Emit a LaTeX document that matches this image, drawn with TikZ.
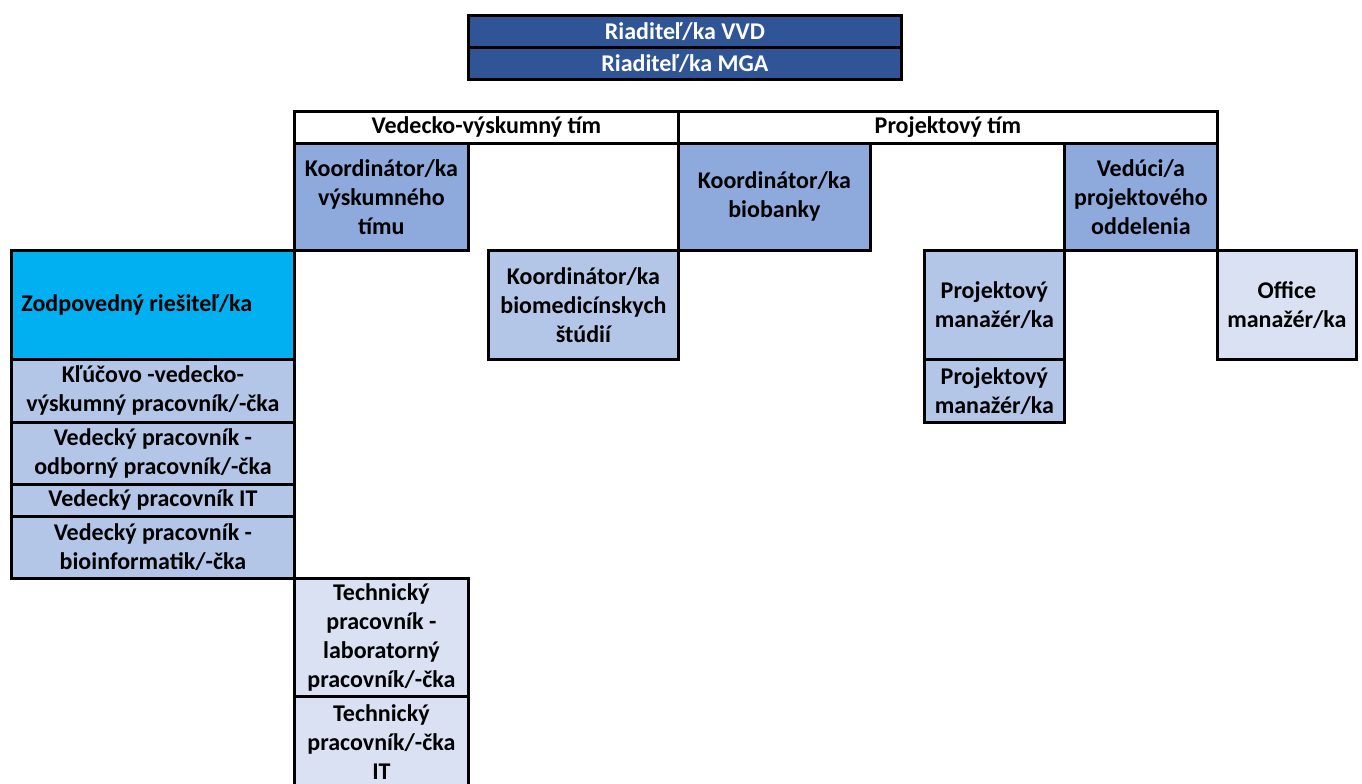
\documentclass[tikz,border=0pt]{standalone}
\usepackage{fontspec}
\setmainfont{Carlito}
\definecolor{dkblue}{HTML}{2F5597}
\definecolor{medblue}{HTML}{8EA9DB}
\definecolor{ltblue}{HTML}{B4C6E7}
\definecolor{paleblue}{HTML}{D9E1F2}
\definecolor{cyanfill}{HTML}{00B0F0}
\begin{document}
\begin{tikzpicture}[x=1pt,y=-1pt,
  box/.style={draw=black, line width=2.8pt, anchor=north west, inner sep=0pt,
    align=center, font=\fontsize{24}{29}\selectfont\bfseries, text=black},
  dk/.style={box, fill=dkblue, text=white},
  md/.style={box, fill=medblue},
  lt/.style={box, fill=ltblue},
  pl/.style={box, fill=paleblue},
  cy/.style={box, fill=cyanfill}
]
\useasboundingbox (0,0) rectangle (1362,784);
\begin{scope}
\clip (0,0) rectangle (1362,784);
\node[dk, minimum width=433pt, minimum height=32pt] (vvd) at (467,14) {Riaditeľ/ka VVD};
\node[dk, minimum width=433pt, minimum height=32pt] (mga) at (467,46) {Riaditeľ/ka MGA};

\node[box, fill=white, minimum width=384pt, minimum height=32pt] (vt) at (293,110) {Vedecko-výskumný tím};
\node[box, fill=white, minimum width=539pt, minimum height=32pt] (pt) at (677,110) {Projektový tím};

\node[md, minimum width=174pt, minimum height=107pt] (kvt) at (293,142) {Koordinátor/ka\\výskumného\\tímu};
\node[md, minimum width=192pt, minimum height=107pt] (kbb) at (677,142) {Koordinátor/ka\\biobanky};
\node[md, minimum width=153pt, minimum height=107pt] (vpo) at (1063,142) {Vedúci/a\\projektového\\oddelenia};

\node[cy, minimum width=283pt, minimum height=109pt, inner xsep=10pt] (zr) at (10,249) {\makebox[263pt][l]{Zodpovedný riešiteľ/ka}};
\node[lt, minimum width=190pt, minimum height=109pt] (kbs) at (487,249) {Koordinátor/ka\\biomedicínskych\\štúdií};
\node[lt, minimum width=140pt, minimum height=109pt] (pm1) at (923,249) {Projektový\\manažér/ka};
\node[pl, minimum width=139pt, minimum height=109pt] (om) at (1216,249) {Office\\manažér/ka};

\node[lt, minimum width=283pt, minimum height=63pt] (kvv) at (10,358) {Kľúčovo -vedecko-\\výskumný pracovník/-čka};
\node[lt, minimum width=283pt, minimum height=62pt] (vop) at (10,421) {Vedecký pracovník -\\odborný pracovník/-čka};
\node[lt, minimum width=283pt, minimum height=32pt] (vit) at (10,483) {Vedecký pracovník IT};
\node[lt, minimum width=283pt, minimum height=62pt] (vbi) at (10,515) {Vedecký pracovník -\\bioinformatik/-čka};
\node[lt, minimum width=140pt, minimum height=63pt] (pm2) at (923,358) {Projektový\\manažér/ka};

\node[pl, minimum width=174pt, minimum height=118pt] (tlp) at (293,577) {Technický\\pracovník -\\laboratorný\\pracovník/-čka};
\node[pl, minimum width=174pt, minimum height=92pt] (tit) at (293,695) {Technický\\pracovník/-čka\\IT};
\end{scope}
\end{tikzpicture}
\end{document}
